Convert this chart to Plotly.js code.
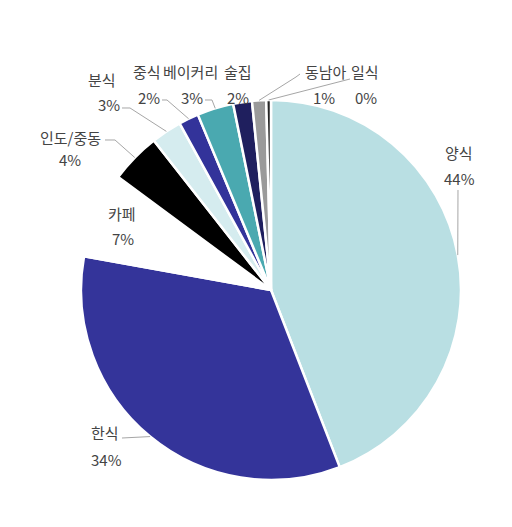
<!DOCTYPE html>
<html>
<head>
<meta charset="utf-8">
<script src="https://cdn.plot.ly/plotly-3.0.1.min.js"></script>
<style>
	html, body { margin: 0; padding: 0; background: #fff; }
	#chart { width: 512px; height: 527px; }
</style>
</head>
<body>
<div id="chart"></div>
<script>
const categories = ["양식", "한식", "카페", "인도/중동", "분식", "중식", "베이커리", "술집", "동남아", "일식"];
const shares = [44.2, 33.8, 7.3, 4.3, 2.6, 1.7, 3.1, 1.6, 1.2, 0.4];
const sliceColors = ["#b9dfe3", "#34349a", "#ffffff", "#000000", "#d5ecef", "#33339a", "#4aa9b0", "#1f1f5e", "#9a9a9a", "#262626"];

const W = 512, H = 527;
// pie placement (pixels)
const CX = 271, CY = 290, R = 190;

// label positions: name centre, percent centre, leader line start/bend (pixels)
const labelSpots = [
	{ name: [459, 152], pct: [459, 178], lead: [[458, 190]] },
	{ name: [105, 432], pct: [106, 459], lead: [[122, 438], [142, 437]] },
	{ name: [122, 213], pct: [123, 238], lead: null },
	{ name: [70, 137], pct: [70, 159], lead: [[105, 140], [115, 140]] },
	{ name: [102, 79], pct: [109, 105], lead: [[122, 108], [130, 108]] },
	{ name: [147, 72], pct: [149, 97], lead: [[162, 100], [167, 100]] },
	{ name: [190, 72], pct: [192, 97], lead: [[205, 100], [212, 100]] },
	{ name: [238, 72], pct: [238, 97], lead: null },
	{ name: [326, 72], pct: [324, 97], lead: [[300, 74], [296, 77]] },
	{ name: [365, 72], pct: [366, 97], lead: [[350, 79]] },
];

const px = (x) => x / W;
const py = (y) => 1 - y / H;

const total = shares.reduce((a, b) => a + b, 0);
const annotations = [];
const shapes = [];
let cum = 0;
for (const i in categories) {
	const mid = (cum + shares[i] / 2) / total;
	cum += shares[i];
	const ang = mid * 2 * Math.PI;
	const ex = CX + R * Math.sin(ang);
	const ey = CY - R * Math.cos(ang);
	const spot = labelSpots[i];
	const font = { family: "Noto Sans CJK KR, Noto Sans, sans-serif", size: 15, color: "#444444" };
	annotations.push({
		xref: "paper", yref: "paper", x: px(spot.name[0]), y: py(spot.name[1]),
		text: categories[i], showarrow: false, xanchor: "center", yanchor: "middle", font: font,
	});
	annotations.push({
		xref: "paper", yref: "paper", x: px(spot.pct[0]), y: py(spot.pct[1]),
		text: Math.round((shares[i] / total) * 100) + "%", showarrow: false,
		xanchor: "center", yanchor: "middle", font: font,
	});
	if (spot.lead) {
		const pts = spot.lead.concat([[ex, ey]]);
		const path = pts.map((p, k) => (k ? "L" : "M") + px(p[0]).toFixed(5) + "," + py(p[1]).toFixed(5)).join(" ");
		shapes.push({
			type: "path", xref: "paper", yref: "paper", path: path,
			line: { color: "#a6a6a6", width: 1 },
		});
	}
}

const trace = {
	type: "pie",
	labels: categories,
	values: shares,
	sort: false,
	direction: "clockwise",
	rotation: 0,
	textinfo: "none",
	hoverinfo: "label+percent",
	marker: { colors: sliceColors, line: { color: "#ffffff", width: 2.5 } },
	domain: { x: [px(CX - R), px(CX + R)], y: [py(CY + R), py(CY - R)] },
};

Plotly.newPlot("chart", [trace], {
	width: W,
	height: H,
	margin: { l: 0, r: 0, t: 0, b: 0 },
	showlegend: false,
	paper_bgcolor: "#ffffff",
	annotations: annotations,
	shapes: shapes,
}, { displayModeBar: false, staticPlot: true });
</script>
</body>
</html>
